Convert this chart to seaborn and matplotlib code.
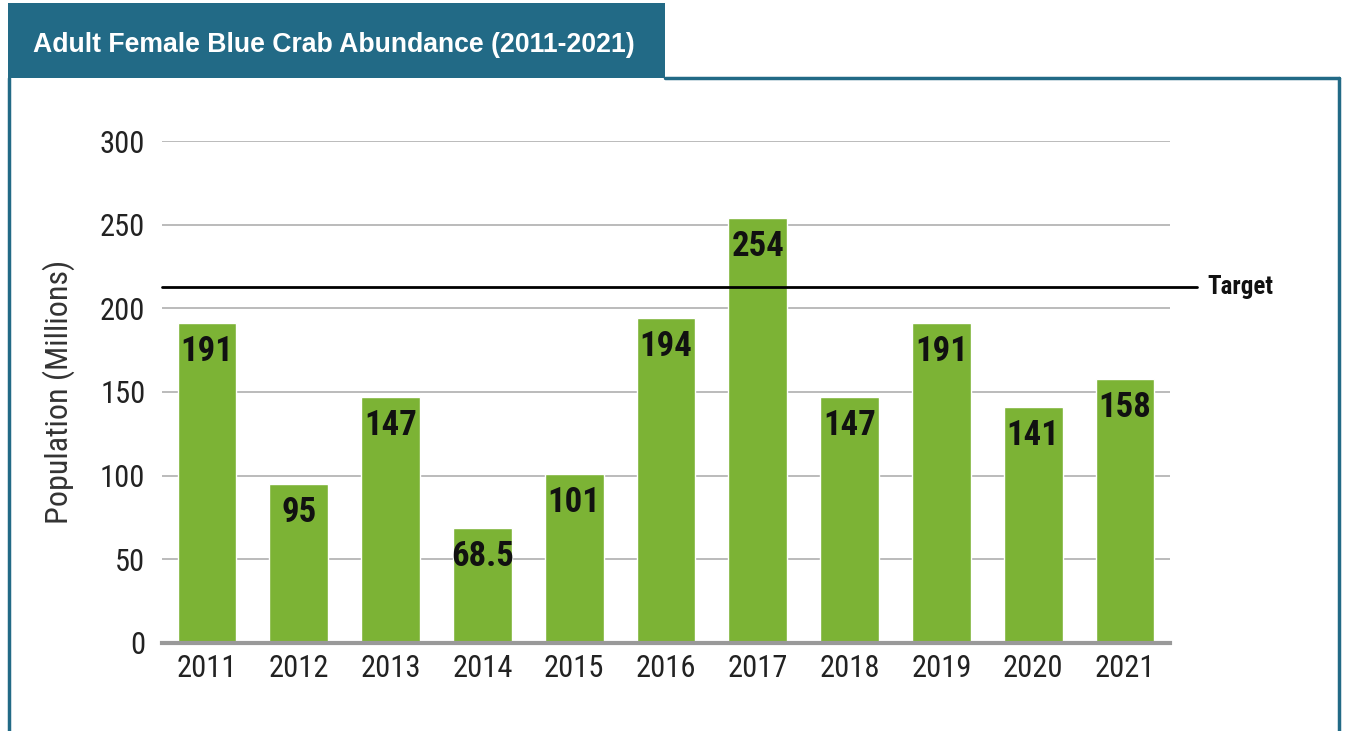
import matplotlib
matplotlib.use("Agg")
import matplotlib.pyplot as plt
import matplotlib.font_manager as fm
import pandas as pd
import seaborn as sns
from matplotlib.patches import Rectangle
from matplotlib.lines import Line2D

years = ["2011", "2012", "2013", "2014", "2015", "2016", "2017", "2018", "2019", "2020", "2021"]
abundance = [191, 95, 147, 68.5, 101, 194, 254, 147, 191, 141, 158]
value_labels = ["191", "95", "147", "68.5", "101", "194", "254", "147", "191", "141", "158"]
target = 213
yticks = [0, 50, 100, 150, 200, 250, 300]

teal = "#226a86"
green = "#7cb335"

# look for a narrow face, the original uses a condensed gothic
names = {f.name for f in fm.fontManager.ttflist}
narrow = None
for cand in ["Liberation Sans Narrow", "Roboto Condensed", "Open Sans Condensed",
             "Noto Sans Condensed", "DejaVu Sans Condensed"]:
    if cand in names:
        narrow = cand
        break
stretch = "normal"
if narrow is None:
    cond = [f for f in fm.fontManager.ttflist if f.stretch in ("condensed", "semi-condensed", "extra-condensed")]
    if cond:
        narrow = cond[0].name
        stretch = cond[0].stretch
    else:
        narrow = "DejaVu Sans"

sns.set_theme(style="white")
plt.rcParams["font.family"] = [narrow, "DejaVu Sans"]
plt.rcParams["font.stretch"] = stretch

df = pd.DataFrame({"year": years, "value": abundance})

fig = plt.figure(figsize=(13.49, 7.31), dpi=100)
ax = fig.add_axes([0.1201, 0.1204, 0.7472, 0.6867])

sns.barplot(data=df, x="year", y="value", color=green, saturation=1, width=0.64, ax=ax, zorder=3)

ax.set_xlim(-0.49, 10.49)
ax.set_ylim(0, 300)
ax.set_yticks(yticks)
ax.grid(axis="y", color="#a8a8a8", linewidth=1.1, zorder=0)
ax.tick_params(axis="both", length=0, labelsize=22, colors="#222222")
ax.tick_params(axis="y", pad=12)
ax.tick_params(axis="x", pad=8)
for s in ["top", "right", "left"]:
    ax.spines[s].set_visible(False)
ax.spines["bottom"].set_color("#999999")
ax.spines["bottom"].set_linewidth(3)
ax.spines["bottom"].set_zorder(4)
ax.set_xlabel("")
ax.set_ylabel("Population (Millions)", fontsize=23, color="#333333", labelpad=18)

for i, (v, lab) in enumerate(zip(abundance, value_labels)):
    ax.text(i, v - 17, lab, ha="center", va="center", fontsize=25,
            fontweight="bold", color="#111111", zorder=5)

# target line extends past the plot area
ax.plot([-0.49, 10.78], [target, target], color="black", linewidth=2,
        clip_on=False, zorder=5)
ax.text(10.9, target, "Target", ha="left", va="center", fontsize=18,
        fontweight="bold", color="#111111")

# frame and title tab
fig.add_artist(Rectangle((8 / 1349, 1 - 78 / 731), (665 - 8) / 1349, 75 / 731,
                         transform=fig.transFigure, facecolor=teal, edgecolor="none"))
fig.add_artist(Line2D([9 / 1349, 9 / 1349], [0, 1 - 78 / 731], transform=fig.transFigure,
                      color=teal, linewidth=2.5))
fig.add_artist(Line2D([665 / 1349, 1339 / 1349], [1 - 78 / 731, 1 - 78 / 731],
                      transform=fig.transFigure, color=teal, linewidth=2.5))
fig.add_artist(Line2D([1339 / 1349, 1339 / 1349], [0, 1 - 78 / 731], transform=fig.transFigure,
                      color=teal, linewidth=2.5))
fig.text(33 / 1349, 1 - 45 / 731, "Adult Female Blue Crab Abundance (2011-2021)",
         ha="left", va="center", fontsize=19.2, fontweight="bold", color="white",
         family=["Liberation Sans", "DejaVu Sans"], stretch="normal")

fig.savefig("out.png", dpi=100)
